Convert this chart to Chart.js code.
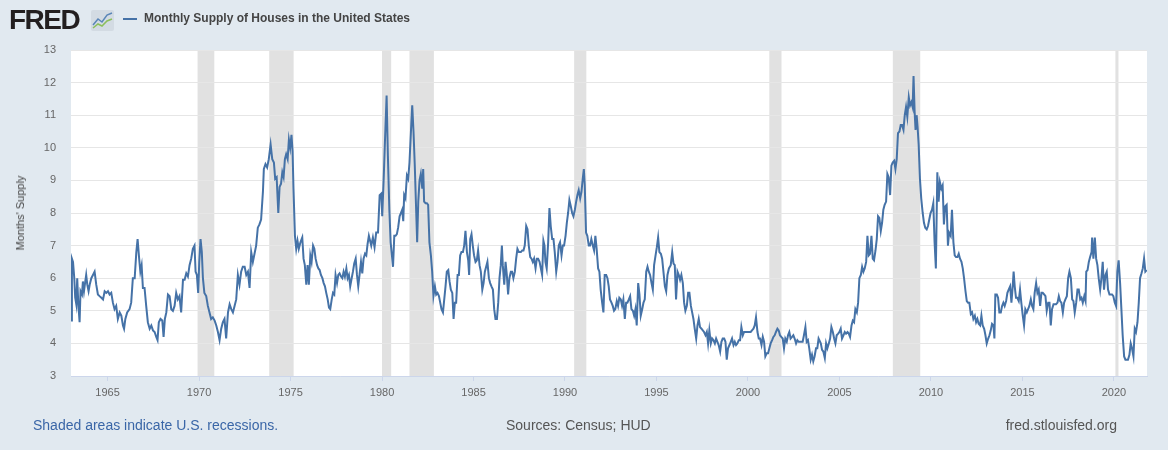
<!DOCTYPE html>
<html><head><meta charset="utf-8">
<script src="https://cdn.jsdelivr.net/npm/chart.js@4.4.1/dist/chart.umd.min.js"></script>
<style>
html,body{margin:0;padding:0;background:#e1e9f0;}
#wrap{position:relative;width:1168px;height:450px;overflow:hidden;font-family:"Liberation Sans",Arial,sans-serif;}
canvas{position:absolute;left:0;top:0;}
.abs{position:absolute;white-space:nowrap;}
</style></head><body>
<div id="wrap">
<canvas id="c" width="1168" height="450"></canvas>
<div class="abs" style="left:9px;top:4px;font-size:28px;font-weight:bold;color:#231f20;letter-spacing:-1.5px;">FRED</div>
<svg class="abs" style="left:91px;top:10px;" width="23" height="21" viewBox="0 0 23 21">
<rect x="0" y="0" width="23" height="21" rx="2" fill="#d3dbe3"/>
<polyline points="2,15 7,9 11,12 16,5 21,3" fill="none" stroke="#5a86b8" stroke-width="1.5"/>
<polyline points="2,18 7,14 11,16 16,11 21,9" fill="none" stroke="#8cbf5c" stroke-width="1.5"/>
</svg>
<div class="abs" style="left:123px;top:18px;width:14px;height:2px;background:#4572a7;"></div>
<div class="abs" style="left:144px;top:11px;font-size:12px;font-weight:bold;color:#444;">Monthly Supply of Houses in the United States</div>
<div class="abs" style="left:20px;top:213px;font-size:11px;color:#444;transform:translate(-50%,-50%) rotate(-90deg);">Months' Supply</div>
<div class="abs" style="left:33px;top:417px;font-size:14px;color:#3a66a7;">Shaded areas indicate U.S. recessions.</div>
<div class="abs" style="left:506px;top:417px;font-size:14px;color:#555;">Sources: Census; HUD</div>
<div class="abs" style="right:51px;top:417px;font-size:14px;color:#555;">fred.stlouisfed.org</div>
</div>
<script>
const dates = [
1963.00,1963.05,1963.11,1963.18,1963.23,1963.29,1963.34,1963.40,1963.47,1963.52,1963.60,1963.65,1963.71,1963.78,1963.83,1963.89,1963.96,
1964.02,1964.11,1964.20,1964.29,1964.38,1964.47,1964.56,1964.66,1964.75,1964.84,1964.93,
1965.02,1965.11,1965.20,1965.29,1965.38,1965.47,1965.56,1965.66,1965.75,1965.84,1965.90,1965.97,
1966.07,1966.20,1966.29,1966.38,1966.48,1966.57,1966.64,1966.71,1966.79,1966.86,1966.93,
1967.02,1967.11,1967.20,1967.30,1967.39,1967.48,1967.57,1967.66,1967.73,1967.80,1967.89,1967.99,
1968.06,1968.13,1968.21,1968.30,1968.39,1968.48,1968.57,1968.66,1968.75,1968.84,1968.93,
1969.02,1969.12,1969.21,1969.30,1969.39,1969.48,1969.57,1969.66,1969.75,1969.81,1969.88,1969.95,
1970.01,1970.08,1970.15,1970.21,1970.29,1970.39,1970.48,1970.57,1970.66,1970.75,1970.85,1970.94,1971.03,
1971.12,1971.21,1971.30,1971.39,1971.48,1971.58,1971.67,1971.76,1971.85,1971.94,
1972.03,1972.12,1972.21,1972.30,1972.39,1972.49,1972.58,1972.67,1972.76,1972.85,1972.94,
1973.03,1973.12,1973.21,1973.30,1973.39,1973.49,1973.54,1973.63,1973.72,1973.81,1973.91,
1974.00,1974.09,1974.16,1974.24,1974.33,1974.40,1974.48,1974.55,1974.62,1974.69,1974.76,1974.84,1974.91,1974.98,
1975.05,1975.11,1975.16,1975.24,1975.31,1975.38,1975.45,1975.54,1975.64,1975.71,1975.78,1975.86,1975.93,
1976.00,1976.08,1976.15,1976.23,1976.30,1976.37,1976.45,1976.52,1976.59,1976.66,1976.74,1976.81,1976.88,1976.95,
1977.03,1977.10,1977.17,1977.25,1977.32,1977.39,1977.46,1977.54,1977.61,1977.68,1977.76,1977.83,1977.90,1977.97,
1978.05,1978.12,1978.19,1978.26,1978.34,1978.41,1978.48,1978.56,1978.63,1978.70,1978.77,1978.85,1978.92,1978.99,
1979.07,1979.14,1979.21,1979.28,1979.41,1979.50,1979.59,1979.68,1979.78,1979.87,1979.96,
1980.01,1980.09,1980.16,1980.25,1980.32,1980.40,1980.47,1980.54,1980.60,1980.67,1980.74,1980.81,1980.88,1980.96,
1981.03,1981.10,1981.16,1981.21,1981.28,1981.36,1981.43,1981.50,1981.58,1981.65,1981.72,1981.79,1981.87,1981.92,1981.98,
1982.05,1982.12,1982.20,1982.25,1982.30,1982.38,1982.45,1982.52,1982.59,1982.67,1982.74,1982.81,1982.89,1982.96,
1983.03,1983.11,1983.18,1983.25,1983.33,1983.40,1983.47,1983.54,1983.62,1983.69,1983.76,1983.84,1983.91,1983.98,
1984.05,1984.13,1984.20,1984.27,1984.34,1984.42,1984.49,1984.56,1984.64,1984.71,1984.76,1984.82,1984.89,1984.96,
1985.03,1985.11,1985.18,1985.25,1985.33,1985.40,1985.48,1985.55,1985.62,1985.69,1985.76,1985.84,1985.91,1985.98,
1986.06,1986.13,1986.20,1986.28,1986.35,1986.42,1986.49,1986.55,1986.60,1986.68,1986.75,1986.82,1986.89,1986.96,
1987.04,1987.11,1987.18,1987.26,1987.33,1987.40,1987.48,1987.59,1987.66,1987.73,1987.80,1987.88,1987.95,
1988.02,1988.10,1988.17,1988.24,1988.31,1988.39,1988.46,1988.53,1988.61,1988.68,1988.75,1988.82,1988.88,1988.93,
1989.00,1989.08,1989.15,1989.22,1989.30,1989.37,1989.44,1989.52,1989.59,1989.66,1989.73,1989.81,1989.88,1989.95,
1990.03,1990.10,1990.17,1990.24,1990.32,1990.39,1990.46,1990.54,1990.61,1990.68,1990.75,1990.83,1990.90,1990.97,
1991.03,1991.08,1991.15,1991.22,1991.30,1991.37,1991.44,1991.52,1991.59,1991.66,1991.73,1991.81,1991.88,1991.95,
1992.03,1992.10,1992.17,1992.25,1992.32,1992.39,1992.46,1992.54,1992.61,1992.68,1992.75,1992.83,1992.90,1992.97,
1993.05,1993.12,1993.19,1993.27,1993.34,1993.41,1993.49,1993.56,1993.63,1993.71,1993.78,1993.85,1993.92,
1994.00,1994.07,1994.14,1994.22,1994.29,1994.36,1994.44,1994.51,1994.58,1994.65,1994.73,1994.80,1994.87,1994.95,
1995.02,1995.09,1995.16,1995.24,1995.31,1995.38,1995.46,1995.53,1995.60,1995.68,1995.78,1995.86,1995.93,
1996.00,1996.07,1996.15,1996.22,1996.29,1996.36,1996.44,1996.51,1996.58,1996.66,1996.73,1996.80,1996.88,1996.95,
1997.02,1997.09,1997.17,1997.24,1997.31,1997.38,1997.46,1997.53,1997.60,1997.68,1997.75,1997.82,1997.89,1997.97,
1998.04,1998.11,1998.19,1998.26,1998.33,1998.40,1998.48,1998.55,1998.62,1998.70,1998.77,1998.84,1998.91,1998.99,
1999.06,1999.13,1999.21,1999.28,1999.35,1999.42,1999.50,1999.57,1999.64,1999.72,1999.79,1999.86,1999.93,
2000.01,2000.08,2000.15,2000.22,2000.30,2000.37,2000.44,2000.52,2000.59,2000.66,2000.74,2000.81,2000.88,2000.95,
2001.03,2001.10,2001.17,2001.24,2001.32,2001.39,2001.46,2001.53,2001.61,2001.68,2001.75,2001.82,2001.90,2001.97,
2002.04,2002.12,2002.19,2002.26,2002.33,2002.41,2002.48,2002.55,2002.63,2002.70,2002.77,2002.84,2002.92,2002.99,
2003.06,2003.14,2003.21,2003.28,2003.35,2003.43,2003.50,2003.57,2003.64,2003.72,2003.79,2003.86,2003.98,
2004.05,2004.12,2004.20,2004.27,2004.34,2004.42,2004.49,2004.56,2004.64,2004.71,2004.78,2004.85,2004.93,
2005.00,2005.07,2005.14,2005.22,2005.29,2005.36,2005.44,2005.51,2005.58,2005.66,2005.73,2005.80,2005.87,2005.95,
2006.02,2006.09,2006.17,2006.24,2006.31,2006.38,2006.46,2006.53,2006.60,2006.67,2006.75,2006.82,2006.89,2006.97,
2007.04,2007.11,2007.18,2007.26,2007.33,2007.40,2007.47,2007.55,2007.62,2007.69,2007.77,2007.84,2007.91,2007.99,
2008.06,2008.13,2008.20,2008.28,2008.35,2008.42,2008.50,2008.57,2008.64,2008.71,2008.79,2008.86,2008.93,
2009.00,2009.05,2009.11,2009.16,2009.22,2009.27,2009.33,2009.40,2009.47,2009.55,2009.62,2009.69,2009.77,2009.84,2009.91,2009.98,
2010.06,2010.13,2010.20,2010.27,2010.35,2010.42,2010.49,2010.57,2010.64,2010.71,2010.78,2010.86,2010.93,2010.99,
2011.08,2011.15,2011.23,2011.30,2011.37,2011.45,2011.52,2011.59,2011.67,2011.74,2011.81,2011.89,2011.96,
2012.03,2012.10,2012.18,2012.25,2012.32,2012.40,2012.47,2012.54,2012.61,2012.69,2012.76,2012.83,2012.91,2012.98,
2013.05,2013.13,2013.20,2013.27,2013.34,2013.42,2013.47,2013.52,2013.60,2013.67,2013.74,2013.82,2013.89,2013.96,
2014.03,2014.11,2014.18,2014.25,2014.33,2014.40,2014.47,2014.52,2014.58,2014.65,2014.72,2014.80,2014.87,2014.94,
2015.02,2015.09,2015.16,2015.24,2015.31,2015.38,2015.46,2015.53,2015.60,2015.67,2015.75,2015.82,2015.89,2015.97,
2016.04,2016.11,2016.19,2016.26,2016.33,2016.41,2016.48,2016.55,2016.62,2016.70,2016.77,2016.84,2016.92,2016.99,
2017.06,2017.13,2017.21,2017.28,2017.35,2017.43,2017.50,2017.57,2017.65,2017.72,2017.79,2017.86,2017.94,
2018.01,2018.08,2018.16,2018.23,2018.30,2018.38,2018.45,2018.49,2018.56,2018.63,2018.70,2018.78,2018.81,2018.88,2018.96,
2019.03,2019.10,2019.17,2019.25,2019.32,2019.39,2019.46,2019.54,2019.61,2019.68,2019.76,2019.83,2019.90,2019.97,
2020.05,2020.12,2020.19,2020.26,2020.34,2020.41,2020.48,2020.56,2020.63,2020.70,2020.77,2020.85,2020.92,2020.99,
2021.07,2021.14,2021.21,2021.29,2021.36,2021.43,2021.51,2021.58,2021.65,2021.72,2021.80
];
const supply = [
4.7,6.6,6.5,6.0,5.4,5.2,6.0,5.2,4.65,5.6,5.5,5.9,5.6,5.9,6.1,5.8,5.6,
5.8,6.0,6.1,6.2,5.8,5.5,5.45,5.4,5.35,5.6,5.55,
5.6,5.5,5.55,5.25,5.05,5.15,4.75,4.95,4.85,4.55,4.45,4.75,
4.95,5.05,5.25,6.0,6.0,6.8,7.2,6.7,6.2,6.4,5.7,
5.7,5.15,4.65,4.45,4.55,4.4,4.35,4.2,4.1,4.65,4.75,4.7,
4.2,4.75,4.95,5.5,5.45,5.05,5.0,5.15,5.55,5.35,5.45,
4.95,5.95,5.95,6.15,6.05,6.4,6.6,6.9,7.0,6.2,6.1,5.55,
6.5,7.2,6.8,6.0,5.55,5.45,5.15,4.95,4.75,4.8,4.7,4.55,4.35,
4.1,4.45,4.65,4.75,4.15,4.95,5.2,5.05,4.95,5.15,
5.35,6.1,5.8,6.2,6.35,6.35,6.1,6.2,5.7,6.8,6.5,
6.75,7.0,7.55,7.65,7.8,8.65,9.35,9.5,9.4,9.65,10.1,
9.65,9.55,9.05,9.1,8.0,8.8,8.9,9.25,9.1,9.65,9.8,9.65,10.25,10.0,
10.4,9.9,8.75,7.3,6.9,7.15,6.9,7.1,7.25,6.6,6.4,5.8,6.4,
5.8,6.7,6.5,7.0,6.9,6.6,6.4,6.3,6.25,6.1,6.0,5.85,5.75,5.55,
5.35,5.1,5.05,5.35,5.55,5.5,6.1,5.85,6.1,6.15,6.05,6.0,6.2,6.05,
6.3,6.0,6.1,5.75,6.0,6.2,6.45,6.6,6.1,5.75,6.1,6.5,6.15,6.6,
6.75,6.7,7.05,7.3,7.0,7.25,6.95,7.4,7.4,8.55,8.6,
7.9,9.05,10.2,11.6,9.75,8.1,7.1,6.7,6.35,7.3,7.3,7.35,7.55,7.9,
8.0,8.1,7.75,8.55,8.45,9.15,9.05,9.55,10.5,11.3,10.5,9.45,8.0,7.1,8.35,
9.0,9.2,8.75,9.35,8.35,8.3,8.3,8.25,7.1,6.7,6.2,5.45,5.75,5.5,
5.55,5.45,5.25,5.05,4.95,5.35,5.75,6.2,6.25,5.9,5.65,5.55,4.75,5.25,
5.25,6.1,6.1,6.7,6.8,6.8,7.0,7.45,6.8,6.55,6.1,7.2,7.35,7.0,
6.7,6.5,6.55,6.85,6.4,6.2,5.65,5.85,6.2,6.35,6.5,6.0,5.85,5.75,
5.65,5.05,4.75,4.75,5.25,6.0,6.4,7.0,6.4,5.8,6.5,6.1,5.5,6.0,
6.2,6.2,6.0,6.2,6.6,6.9,6.8,6.8,6.85,6.85,7.0,7.6,7.5,
7.0,6.65,6.6,6.5,6.6,6.3,6.6,6.6,6.5,6.3,6.1,7.15,7.0,6.5,
6.3,7.1,8.15,7.6,7.2,7.2,6.8,6.2,6.5,7.0,7.1,6.7,7.0,7.0,
7.3,7.7,8.0,8.4,8.2,8.0,7.9,8.1,8.35,8.55,8.7,8.45,8.65,9.05,
9.35,8.85,7.4,7.3,7.0,7.0,7.2,7.0,6.85,7.3,6.9,6.3,6.2,5.65,
5.25,4.95,6.1,6.1,6.0,5.75,5.35,5.25,5.15,5.0,5.05,5.3,5.15,5.4,
5.35,5.15,5.35,4.75,5.25,5.25,5.35,5.45,5.05,5.0,4.85,5.05,4.55,
5.85,5.5,4.85,5.05,5.25,5.35,6.2,6.35,6.2,6.1,5.85,5.65,6.4,6.7,
6.95,7.25,6.8,6.75,6.6,6.2,5.75,5.6,6.1,6.3,6.4,6.8,6.45,
6.4,5.35,6.2,6.1,5.95,6.1,5.85,5.25,5.0,5.15,5.55,5.55,5.15,4.95,
4.75,4.45,4.15,4.55,4.75,4.5,4.45,4.4,4.35,4.25,4.35,4.0,4.4,4.0,
4.15,4.1,4.0,4.15,4.05,3.95,3.75,4.05,4.15,4.15,4.05,3.5,3.85,3.95,
4.05,4.15,3.95,4.05,3.95,4.0,4.1,4.1,4.5,4.25,4.35,4.35,4.35,
4.35,4.35,4.35,4.4,4.45,4.55,4.8,4.35,4.15,4.15,3.95,4.2,4.05,3.6,
3.7,3.7,3.85,4.0,4.1,4.2,4.25,4.35,4.45,4.4,4.25,4.2,4.15,3.85,
4.15,4.05,4.25,4.35,4.15,4.2,4.25,4.15,4.0,4.1,4.05,4.05,4.05,4.05,
4.25,4.5,4.05,4.1,3.85,3.5,3.65,3.45,3.6,3.85,3.85,4.15,4.0,
3.8,3.75,3.55,4.0,3.85,4.0,4.15,4.5,4.35,4.15,4.0,4.25,4.3,
4.35,4.45,4.15,4.25,4.35,4.3,4.35,4.3,4.2,4.55,4.7,4.65,5.05,4.95,
5.25,6.0,6.1,6.35,6.2,6.3,6.5,7.3,6.7,6.75,7.3,6.6,6.55,6.85,
7.2,7.9,7.85,7.45,7.7,8.1,8.25,8.35,9.2,9.1,8.55,9.45,9.55,9.6,
9.35,9.65,10.45,10.5,10.7,10.7,10.55,11.0,11.25,10.95,11.55,11.3,11.4,
11.25,12.2,11.1,10.55,11.0,10.65,10.1,9.05,8.45,8.0,7.7,7.55,7.5,7.6,7.8,8.0,
8.1,8.3,7.1,6.3,9.25,8.35,8.95,8.75,8.85,7.65,8.2,8.25,7.0,7.4,
7.3,8.1,7.1,6.7,6.65,6.65,6.75,6.6,6.5,6.3,6.0,5.6,5.3,
5.25,5.25,4.9,4.95,4.75,4.85,4.65,4.75,4.6,4.55,4.85,4.55,4.45,4.25,
4.0,4.15,4.25,4.4,4.6,4.55,4.15,5.5,5.5,5.4,4.95,4.95,5.15,5.25,
5.15,5.3,5.55,5.65,5.75,5.25,5.75,6.2,5.75,5.4,5.4,5.3,5.65,5.25,
4.85,4.55,5.05,4.95,5.05,5.15,5.35,5.15,5.05,5.55,5.85,5.55,5.65,5.15,
5.55,5.55,5.5,5.45,5.0,5.25,5.25,4.55,5.05,5.2,5.2,5.2,5.25,5.45,
5.3,5.25,4.95,5.25,5.35,5.45,6.0,6.2,6.0,5.35,5.3,4.95,5.25,
5.65,5.65,5.35,5.4,5.25,5.45,5.3,6.2,6.25,6.5,6.65,6.8,7.25,6.6,7.25,
6.6,6.4,6.0,5.65,6.0,6.5,5.65,6.1,6.2,5.65,5.5,5.5,5.5,5.45,
5.25,5.15,6.2,6.55,5.85,5.05,4.25,3.6,3.5,3.5,3.5,3.65,4.0,3.85,
3.6,4.45,4.35,4.65,5.25,6.0,6.15,6.3,6.6,6.2,6.25
];
const recessionStart = [1969.917,1973.833,1980.0,1981.5,1990.5,2001.167,2007.917,2020.083];
const recessionEnd   = [1970.833,1975.167,1980.5,1982.833,1991.167,2001.833,2009.417,2020.25];
const xTickYears = [1965,1970,1975,1980,1985,1990,1995,2000,2005,2010,2015,2020];
const yTickValues = [3,4,5,6,7,8,9,10,11,12,13];
const xMin = 1963.0, xMax = 2021.81;

const bgPlugin = {
  id: 'bgBands',
  beforeDraw(chart) {
    const {ctx, chartArea: a, scales: {x}} = chart;
    ctx.save();
    ctx.fillStyle = '#ffffff';
    ctx.fillRect(a.left, a.top, a.right - a.left, a.bottom - a.top);
    ctx.fillStyle = '#e1e1e1';
    recessionStart.forEach((s, i) => {
      const x0 = x.getPixelForValue(s), x1 = x.getPixelForValue(recessionEnd[i]);
      ctx.fillRect(x0, a.top, x1 - x0, a.bottom - a.top);
    });
    ctx.restore();
  }
};

Chart.defaults.font.family = '"Liberation Sans", Arial, sans-serif';
new Chart(document.getElementById('c'), {
  type: 'line',
  data: {
    datasets: [{
      data: dates.map((d, i) => ({x: d, y: supply[i]})),
      borderColor: '#4572a7',
      borderWidth: 2,
      pointRadius: 0,
      tension: 0,
      fill: false
    }]
  },
  options: {
    responsive: false,
    animation: false,
    events: [],
    layout: {padding: {left: 0, right: 21, top: 50, bottom: 0}},
    plugins: {legend: {display: false}, tooltip: {enabled: false}},
    scales: {
      x: {
        type: 'linear', min: xMin, max: xMax,
        afterBuildTicks: s => { s.ticks = xTickYears.map(v => ({value: v})); },
        afterFit: s => { s.height = 74; },
        ticks: {callback: v => String(v), color: '#666', font: {size: 11}, padding: 5, maxRotation: 0, autoSkip: false},
        grid: {drawOnChartArea: false, drawTicks: true, tickLength: 5, color: '#ccd6eb'},
        border: {display: true, color: '#ccd6eb'}
      },
      y: {
        min: 3, max: 13,
        afterBuildTicks: s => { s.ticks = yTickValues.map(v => ({value: v})); },
        afterFit: s => { s.width = 71; },
        ticks: {callback: v => String(v), color: '#666', font: {size: 11}, padding: 15},
        grid: {color: '#e6e6e6', drawTicks: false},
        border: {display: false}
      }
    }
  },
  plugins: [bgPlugin]
});
</script>
</body></html>
